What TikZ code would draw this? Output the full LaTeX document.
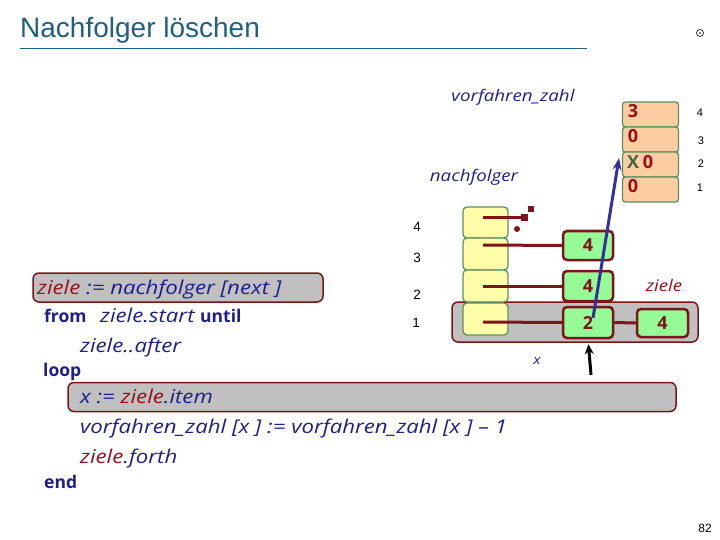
\documentclass[tikz,border=0pt]{standalone}
\usepackage{fontspec}
\setmainfont{Liberation Sans}
\newfontfamily\codefont[FakeStretch=1.17]{Open Sans}
\newfontfamily\kwfont{Open Sans}
\usetikzlibrary{arrows.meta,calc}
\definecolor{navy}{RGB}{30,30,140}
\definecolor{dred}{RGB}{150,15,25}
\definecolor{boxred}{RGB}{125,20,25}
\definecolor{titlecol}{RGB}{31,95,127}
\definecolor{peach}{RGB}{252,205,160}
\definecolor{pale}{RGB}{255,255,170}
\definecolor{lgreen}{RGB}{150,250,150}
\definecolor{bgreen}{RGB}{90,145,95}
\definecolor{gbox}{RGB}{192,192,192}
\definecolor{arrblue}{RGB}{50,50,150}
\tikzset{
  code/.style={anchor=base west, inner sep=0pt, font=\codefont\itshape\fontsize{19}{22}\selectfont, text=navy},
  kw/.style={anchor=base west, inner sep=0pt, font=\kwfont\bfseries\fontsize{17.5}{20}\selectfont, text=navy},
  lbl/.style={inner sep=0pt, font=\codefont\itshape\fontsize{16}{19}\selectfont, text=navy},
  idx/.style={inner sep=0pt, font=\fontsize{13.5}{15}\selectfont},
  ridx/.style={inner sep=0pt, font=\fontsize{11}{13}\selectfont},
  num/.style={inner sep=0pt, font=\kwfont\bfseries\fontsize{18}{20}\selectfont, text=dred},
  orange/.style={draw=bgreen, fill=peach, line width=1.3pt, rounded corners=3pt, minimum width=56pt, minimum height=25pt, inner sep=0pt},
  yellow/.style={draw=bgreen, fill=pale, line width=1.3pt, rounded corners=4pt, minimum width=45pt, inner sep=0pt},
  gcell/.style={draw=boxred, fill=lgreen, line width=2.5pt, rounded corners=4pt, inner sep=0pt, font=\kwfont\bfseries\fontsize{18}{20}\selectfont, text=boxred},
  grayband/.style={draw=boxred, fill=gbox, line width=1.5pt, rounded corners=6pt},
  ptr/.style={draw=boxred, line width=3pt},
}
\begin{document}
\begin{tikzpicture}[x=1pt,y=-1pt]
\useasboundingbox (0,0) rectangle (720,540);
% title
\node[anchor=base west, inner sep=0pt, text=titlecol, font=\fontsize{28}{31}\selectfont] (title) at (20,38) {Nachfolger löschen};
\draw[titlecol, line width=0.8pt] (20,48) -- (587,48);
\draw[line width=0.6pt] (700,33) circle (3.5);
\fill (700,33) circle (0.8);

% vorfahren_zahl array
\node[lbl] (vzlbl) at (513,97) {vorfahren\_zahl};
\node[orange] (o4) at (650.5,114.5) {};
\node[orange] (o3) at (650.5,139.5) {};
\node[orange] (o2) at (650.5,164.5) {};
\node[orange] (o1) at (650.5,189.5) {};
\node[num] (t4) at (633,111) {3};
\node[num] (t3) at (633,136) {0};
\node[num, text=bgreen!70!black] (tx) at (633,162) {X};
\node[num] (t2) at (648,162) {0};
\node[num] (t1) at (633,186.5) {0};
\node[ridx] (i4) at (700,113) {4};
\node[ridx] (i3) at (701,141) {3};
\node[ridx] (i2) at (701,164) {2};
\node[ridx] (i1) at (700,188) {1};

% nachfolger array
\node[lbl] (nflbl) at (474,177) {nachfolger};
\node[grayband, minimum width=246pt, minimum height=40pt] (band) at (575,322) {};
\node[yellow, minimum height=31pt] (y4) at (485.5,222.5) {};
\node[yellow, minimum height=32pt] (y3) at (485.5,254) {};
\node[yellow, minimum height=32pt] (y2) at (485.5,286) {};
\node[yellow, minimum height=32pt] (y1) at (485.5,319) {};
\node[idx] (j4) at (417,227) {4};
\node[idx] (j3) at (417,258) {3};
\node[idx] (j2) at (417,295) {2};
\node[idx] (j1) at (416,323) {1};

\node[gcell, minimum width=50pt, minimum height=29pt] (g3) at (588,245.5) {4};
\node[gcell, minimum width=50pt, minimum height=30pt] (g2) at (588,286) {4};
\node[gcell, minimum width=50pt, minimum height=31pt] (g1) at (588,322.5) {2};
\node[gcell, minimum width=51pt, minimum height=28pt] (g1b) at (662.5,323) {4};

\coordinate (p4) at (483,218);
\coordinate (p3) at (483,245);
\coordinate (p2) at (483,286);
\coordinate (p1) at (483,322);
\coordinate (q4) at (524,218);
\draw[ptr] (p4) -- (q4);
\fill[boxred] ($(q4)+(-3.5,-3.5)$) rectangle ($(q4)+(3.5,3.5)$);
\fill[boxred] (528,206) rectangle (534,212);
\fill[boxred] (517,229) circle (3);
\draw[ptr] (p3) -- (g3.west);
\draw[ptr] (p2) -- (g2.west);
\draw[ptr] (p1) -- (g1.west);
\draw[ptr] (g1.east) -- (g1b.west);
\node[inner sep=0pt, font=\codefont\itshape\fontsize{16}{18}\selectfont, text=dred] (zlbl) at (664,285) {ziele};

% arrows
\coordinate (ba) at (593,318);
\coordinate (bb) at (619,158);
\draw[arrblue, line width=3pt, -{Stealth[length=12pt, width=9pt]}] (ba) -- (bb);
\coordinate (ka) at (591,375);
\draw[black, line width=3pt, shorten >=5pt, -{Stealth[length=10pt, width=9pt]}] (ka) -- (g1.south);
\node[inner sep=0pt, font=\codefont\itshape\fontsize{13}{15}\selectfont, text=navy] (xlbl) at (537,361) {x};

% code
\node[grayband, minimum width=290pt, minimum height=29pt] (c1box) at (178,287.5) {};
\node[code] (c1) at (37,294) {\textcolor{dred}{ziele} := nachfolger [next ]};
\node[kw] (c2a) at (44,322) {from};
\node[code] (c2b) at (100,322) {ziele.start};
\node[kw] (c2c) at (200,322) {until};
\node[code] (c3) at (80,352) {ziele..after};
\node[kw] (c4) at (43,376) {loop};
\node[grayband, minimum width=608pt, minimum height=29pt] (c5box) at (372,397) {};
\node[code] (c5) at (80,403) {x := \textcolor{dred}{ziele}.item};
\node[code] (c6) at (80,433) {vorfahren\_zahl [x ] := vorfahren\_zahl [x ] – 1};
\node[code] (c7) at (80,463) {\textcolor{dred}{ziele}.forth};
\node[kw] (c8) at (44,488) {end};

\node[inner sep=0pt, font=\fontsize{12}{14}\selectfont] (pg) at (705,528) {82};
\end{tikzpicture}
\end{document}
